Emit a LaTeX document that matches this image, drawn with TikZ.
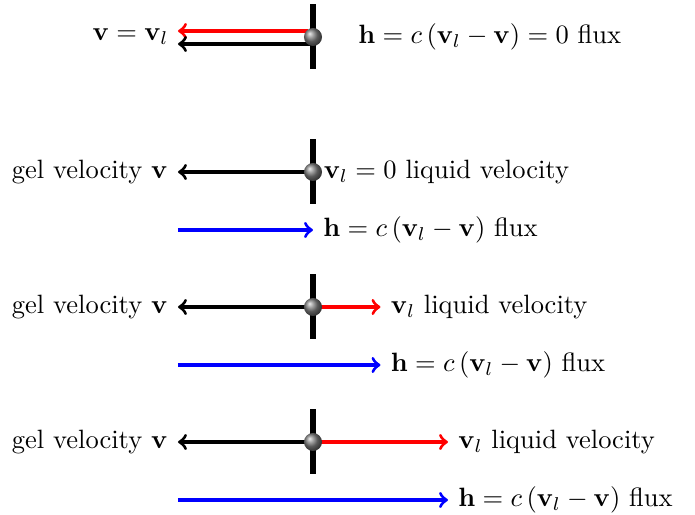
\documentclass[tikz,border=0pt]{standalone}
\usepackage{amsmath}
\usetikzlibrary{calc,shadings}

\begin{document}
\begin{tikzpicture}[x=0.663cm,y=0.663cm,
    wall/.style={line width=2.1pt},
    gel/.style={->,very thick,draw=black},
    liq/.style={->,very thick,draw=red},
    flx/.style={->,very thick,draw=blue},
    ball/.style={circle,ball color=gray,inner sep=0pt,minimum size=6.8pt}]
  \useasboundingbox (-6.26,0.74) rectangle (7.64,-9.56);

  % Mittelpunkte der Waende
  \coordinate (m0) at (0,0);
  \coordinate (m1) at (0,-2.7);
  \coordinate (m2) at (0,-5.4);
  \coordinate (m3) at (0,-8.1);

  % Waende
  \foreach \m in {m0,m1,m2,m3} {
      \draw[wall] ($(\m)+(0,0.65)$) -- ($(\m)+(0,-0.65)$);
    }

  % Gleichgewicht
  \coordinate (r0) at (-0.1,0.12);
  \coordinate (rl0) at (-2.7,0.12);
  \coordinate (k0) at (0,-0.14);
  \coordinate (kl0) at (-2.7,-0.14);
  \draw[liq] (r0) -- (rl0);
  \draw[gel] (k0) -- (kl0);
  \node[left] (vv0) at (-2.7,0) {$\mathbf{v}=\mathbf{v}_l$};
  \node[right] (h0) at (0.72,0) {$\mathbf{h}=c\,(\mathbf{v}_l-\mathbf{v})=0$ flux};

  % Gel bewegt sich, Fluessigkeit ruht
  \coordinate (g1) at (-2.7,-2.7);
  \coordinate (fa1) at (-2.7,-3.86);
  \coordinate (fb1) at (0,-3.86);
  \draw[gel] (m1) -- (g1) node[left] (gt1) {gel velocity $\mathbf{v}$};
  \draw[flx] (fa1) -- (fb1) node[right] (ht1) {$\mathbf{h}=c\,(\mathbf{v}_l-\mathbf{v})$ flux};

  % Fluessigkeit halb so schnell
  \coordinate (g2) at (-2.7,-5.4);
  \coordinate (l2) at (1.35,-5.4);
  \coordinate (fa2) at (-2.7,-6.56);
  \coordinate (fb2) at (1.35,-6.56);
  \draw[gel] (m2) -- (g2) node[left] (gt2) {gel velocity $\mathbf{v}$};
  \draw[liq] (m2) -- (l2) node[right] (lt2) {$\mathbf{v}_l$ liquid velocity};
  \draw[flx] (fa2) -- (fb2) node[right] (ht2) {$\mathbf{h}=c\,(\mathbf{v}_l-\mathbf{v})$ flux};

  % Fluessigkeit schneller
  \coordinate (g3) at (-2.7,-8.1);
  \coordinate (l3) at (2.7,-8.1);
  \coordinate (fa3) at (-2.7,-9.26);
  \coordinate (fb3) at (2.7,-9.26);
  \draw[gel] (m3) -- (g3) node[left] (gt3) {gel velocity $\mathbf{v}$};
  \draw[liq] (m3) -- (l3) node[right] (lt3) {$\mathbf{v}_l$ liquid velocity};
  \draw[flx] (fa3) -- (fb3) node[right] (ht3) {$\mathbf{h}=c\,(\mathbf{v}_l-\mathbf{v})$ flux};

  % Kugeln
  \node[ball] (b0) at (m0) {};
  \node[ball] (b1) at (m1) {};
  \node[ball] (b2) at (m2) {};
  \node[ball] (b3) at (m3) {};
  \node[right,inner sep=0.3pt] (lt1) at (b1.east) {$\mathbf{v}_l=0$ liquid velocity};
\end{tikzpicture}
\end{document}
